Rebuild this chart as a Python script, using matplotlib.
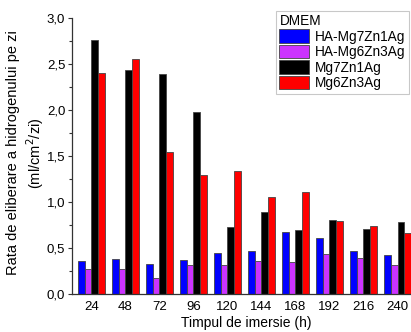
import numpy as np
import matplotlib
matplotlib.use("Agg")
import matplotlib.pyplot as plt
from matplotlib.ticker import MultipleLocator, FuncFormatter

plt.rcParams['font.family'] = ['Liberation Sans', 'DejaVu Sans']

hours = ['24', '48', '72', '96', '120', '144', '168', '192', '216', '240']
series_names = ['HA-Mg7Zn1Ag', 'HA-Mg6Zn3Ag', 'Mg7Zn1Ag', 'Mg6Zn3Ag']
ha_mg7zn1ag = [0.36, 0.38, 0.33, 0.37, 0.45, 0.47, 0.67, 0.61, 0.47, 0.42]
ha_mg6zn3ag = [0.27, 0.27, 0.17, 0.32, 0.32, 0.36, 0.35, 0.44, 0.39, 0.32]
mg7zn1ag = [2.76, 2.44, 2.39, 1.98, 0.73, 0.89, 0.70, 0.80, 0.71, 0.78]
mg6zn3ag = [2.40, 2.56, 1.54, 1.30, 1.34, 1.06, 1.11, 0.79, 0.74, 0.66]
colors = ['#0000ff', '#cc33ff', '#000000', '#ff0000']

fig = plt.figure(figsize=(4.11, 3.32), dpi=100)
ax_left, ax_right = 71.5, 421.0
ax = fig.add_axes([ax_left / 411, 1 - 294 / 332, (ax_right - ax_left) / 411, (294 - 18.3) / 332])

x = np.arange(len(hours))
w = 0.195
all_series = [ha_mg7zn1ag, ha_mg6zn3ag, mg7zn1ag, mg6zn3ag]
for i, (vals, name, c) in enumerate(zip(all_series, series_names, colors)):
    ax.bar(x + (i - 1.5) * w, vals, width=w, color=c, edgecolor='#444444',
           linewidth=0.6, label=name)

ax.set_xlim(-0.58, 9.69)
ax.set_ylim(0, 3.0)
ax.set_xticks(x)
ax.set_xticklabels(hours)
ax.tick_params(axis='x', length=0, labelsize=9.5, pad=5)
ax.yaxis.set_major_locator(MultipleLocator(0.5))
ax.yaxis.set_minor_locator(MultipleLocator(0.25))
ax.yaxis.set_major_formatter(FuncFormatter(lambda v, p: f"{v:.1f}".replace('.', ',')))
ax.tick_params(axis='y', which='major', length=3, width=0.8, labelsize=9.5, pad=1.5, color='#333333')
ax.tick_params(axis='y', which='minor', length=2, width=0.8, color='#333333')
for s in ['top', 'right']:
    ax.spines[s].set_visible(False)
for s in ['left', 'bottom']:
    ax.spines[s].set_color('#333333')
    ax.spines[s].set_linewidth(0.9)

# Axis titles placed in figure coordinates
fig.text(246 / 411, 1 - 323 / 332, 'Timpul de imersie (h)', fontsize=10,
         ha='center', va='center')
fig.text(26 / 411, 1 - 153 / 332,
         'Rata de eliberare a hidrogenului pe zi\n(ml/cm$^2$/zi)', fontsize=10.5,
         ha='center', va='center', rotation=90, linespacing=1.3,
         multialignment='center')

leg = ax.legend(title='DMEM', loc='upper left', bbox_to_anchor=(276 / 411, 1 - 11 / 332),
                bbox_transform=fig.transFigure, fontsize=9.8, title_fontsize=9.8,
                frameon=True, fancybox=False, borderaxespad=0, handlelength=2.2,
                handleheight=1.15, handletextpad=0.4, labelspacing=0.08,
                borderpad=0.25, alignment='left')
leg.get_frame().set_edgecolor('#bbbbbb')
leg.get_frame().set_linewidth(0.8)

fig.savefig('out.png', dpi=100)
